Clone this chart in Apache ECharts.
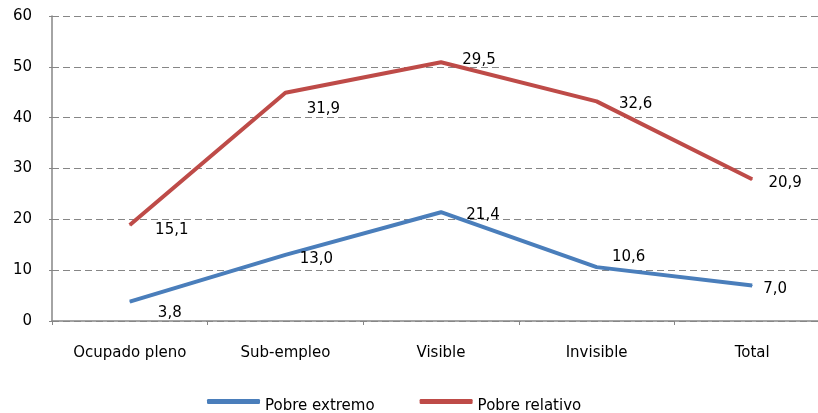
<!DOCTYPE html>
<html><head><meta charset="utf-8">
<script src="https://cdn.jsdelivr.net/npm/echarts@6/dist/echarts.min.js"></script>
<style>html,body{margin:0;padding:0;background:#fff;overflow:hidden;width:818px;height:413px}#c{width:830px;height:413px}</style>
</head><body><div id="c"></div>
<script>
const categories = ['Ocupado pleno', 'Sub-empleo', 'Visible', 'Invisible', 'Total'];
const pobreExtremo = [3.8, 13.0, 21.4, 10.6, 7.0];
const pobreRelativo = [15.1, 31.9, 29.5, 32.6, 20.9];
const yTicks = [0, 10, 20, 30, 40, 50, 60];

const blueOffsets = [[40, 11], [31, 4], [42, 3], [32, -10], [23, 4]];
const redOffsets = [[42, 5], [38, 16], [38, -2], [39, 3], [33, 4]];

const FONT = 'DejaVu Sans';
const FS = 15;
const fmt = v => v.toFixed(1).replace('.', ',');
const lbl = {show: true, position: 'inside', color: '#000', fontFamily: FONT, fontSize: FS};

function mk(vals, offs) {
  return vals.map((v, i) => ({value: v, label: {offset: offs[i]}}));
}

const chart = echarts.init(document.getElementById('c'));
chart.setOption({
  animation: false,
  grid: {left: 52, right: 0, top: 16, bottom: 92},
  legend: {
    top: 394, left: 202, itemWidth: 53, itemHeight: 5, itemGap: 45,
    icon: 'roundRect',
    formatter: n => '{t|' + n + '}',
    textStyle: {fontFamily: FONT, fontSize: FS, color: '#000',
      rich: {t: {fontFamily: FONT, fontSize: FS, color: '#000', padding: [10, 0, 0, 0]}}},
    data: ['Pobre extremo', 'Pobre relativo']
  },
  xAxis: {
    type: 'category', data: categories, boundaryGap: true,
    axisLine: {lineStyle: {color: '#868686', width: 1.5}},
    axisTick: {show: true, length: 4, lineStyle: {color: '#868686'}},
    axisLabel: {color: '#000', fontFamily: FONT, fontSize: FS, margin: 25}
  },
  yAxis: {
    type: 'value', min: 0, max: 60, interval: 10,
    axisLine: {show: true, lineStyle: {color: '#868686', width: 1.5}},
    axisTick: {show: true, length: 3, lineStyle: {color: '#868686'}},
    axisLabel: {color: '#000', fontFamily: FONT, fontSize: FS, margin: 20,
      formatter: v => yTicks.includes(v) ? String(v) : ''},
    splitLine: {show: true, lineStyle: {color: '#868686', type: [7, 4], width: 1.2}}
  },
  series: [
    {name: 'Pobre extremo', type: 'line', stack: 'total', data: mk(pobreExtremo, blueOffsets),
     color: '#4A7EBB', lineStyle: {width: 4, color: '#4A7EBB'}, showSymbol: true, symbol: 'circle', symbolSize: 1,
     itemStyle: {color: '#4A7EBB'},
     label: Object.assign({}, lbl, {formatter: p => fmt(p.value)})},
    {name: 'Pobre relativo', type: 'line', stack: 'total', data: mk(pobreRelativo, redOffsets),
     color: '#BE4B48', lineStyle: {width: 4, color: '#BE4B48'}, showSymbol: true, symbol: 'circle', symbolSize: 1,
     itemStyle: {color: '#BE4B48'},
     label: Object.assign({}, lbl, {formatter: p => fmt(p.value)})}
  ]
});
</script></body></html>
